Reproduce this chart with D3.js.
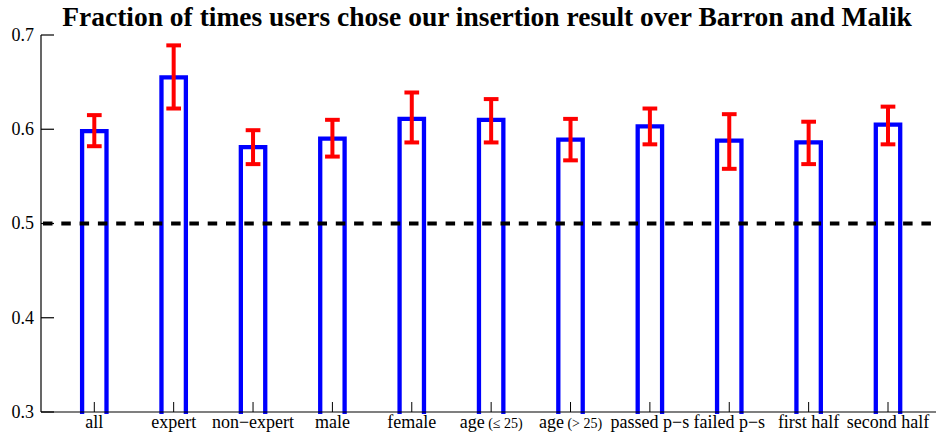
<!DOCTYPE html>
<meta charset="utf-8">
<style>
body { margin: 0; background: #fff; }
svg { display: block; background: #fff; }
text { font-family: "Liberation Serif", "Times New Roman", serif; fill: #000; }
.title { font-size: 27.5px; font-weight: bold; }
.axis text { font-size: 18px; }
</style>
<body>
<div id="chart"></div>
<script src="https://d3js.org/d3.v7.min.js"></script>
<script>
// categories and values
var categories = ["all", "expert", "non\u2212expert", "male", "female", "age|(\u2264 25)", "age|(> 25)",
  "passed p\u2212s", "failed p\u2212s", "first half", "second half"];
var fractions = [0.598, 0.655, 0.581, 0.590, 0.611, 0.610, 0.589, 0.603, 0.588, 0.586, 0.605];
var errLow  = [0.582, 0.622, 0.563, 0.571, 0.586, 0.586, 0.567, 0.584, 0.558, 0.563, 0.584];
var errHigh = [0.615, 0.689, 0.599, 0.610, 0.639, 0.632, 0.611, 0.622, 0.616, 0.608, 0.624];
var yTicks = [0.3, 0.4, 0.5, 0.6, 0.7];
var chance = 0.5;

var W = 936, H = 436;
var axisLeft = 41, axisRight = 936;

var svg = d3.select("#chart").append("svg")
  .attr("width", W)
  .attr("height", H);

var x = d3.scaleLinear().domain([1, 11]).range([94.3, 888]);
var y = d3.scaleLinear().domain([0.3, 0.7]).range([412, 35]);

var barW = 24.4, capW = 14.7;

svg.append("text")
  .attr("class", "title")
  .attr("x", 487)
  .attr("y", 26)
  .attr("text-anchor", "middle")
  .text("Fraction of times users chose our insertion result over Barron and Malik");

// bars: open at the bottom, drawn as outlines
svg.append("g").selectAll("path")
  .data(fractions)
  .enter().append("path")
  .attr("d", function(d, i) {
    var cx = x(i + 1), l = cx - barW / 2, r = cx + barW / 2;
    return "M" + l + "," + (y(0.3) + 2) + "V" + y(d) + "H" + r + "V" + (y(0.3) + 2);
  })
  .attr("fill", "none")
  .attr("stroke", "#0000ff")
  .attr("stroke-width", 4.3);

// chance line
svg.append("line")
  .attr("x1", axisLeft + 2).attr("x2", axisRight)
  .attr("y1", y(chance)).attr("y2", y(chance))
  .attr("stroke", "#000")
  .attr("stroke-width", 4)
  .attr("stroke-dasharray", "9.5,8.8");

// error bars
var err = svg.append("g").selectAll("g")
  .data(fractions)
  .enter().append("g")
  .attr("stroke", "#ff0000")
  .attr("stroke-width", 4);

err.append("line")
  .attr("x1", function(d, i) { return x(i + 1); })
  .attr("x2", function(d, i) { return x(i + 1); })
  .attr("y1", function(d, i) { return y(errLow[i]); })
  .attr("y2", function(d, i) { return y(errHigh[i]); });
err.append("line")
  .attr("x1", function(d, i) { return x(i + 1) - capW / 2; })
  .attr("x2", function(d, i) { return x(i + 1) + capW / 2; })
  .attr("y1", function(d, i) { return y(errHigh[i]); })
  .attr("y2", function(d, i) { return y(errHigh[i]); });
err.append("line")
  .attr("x1", function(d, i) { return x(i + 1) - capW / 2; })
  .attr("x2", function(d, i) { return x(i + 1) + capW / 2; })
  .attr("y1", function(d, i) { return y(errLow[i]); })
  .attr("y2", function(d, i) { return y(errLow[i]); });

// y axis
var yAxis = svg.append("g").attr("class", "axis");
yAxis.append("line")
  .attr("x1", axisLeft).attr("x2", axisLeft)
  .attr("y1", y(0.7)).attr("y2", y(0.3))
  .attr("stroke", "#000").attr("stroke-width", 1.2);
yAxis.selectAll(".tick").data(yTicks).enter().append("line")
  .attr("x1", axisLeft).attr("x2", axisLeft + 13)
  .attr("y1", function(d) { return y(d); })
  .attr("y2", function(d) { return y(d); })
  .attr("stroke", "#000").attr("stroke-width", 1.2);
yAxis.selectAll("text").data(yTicks).enter().append("text")
  .attr("x", 34)
  .attr("y", function(d) { return y(d); })
  .attr("dy", "0.33em")
  .attr("text-anchor", "end")
  .text(function(d) { return d3.format(".1f")(d); });

// x axis
var xAxis = svg.append("g").attr("class", "axis");
xAxis.append("line")
  .attr("x1", axisLeft).attr("x2", axisRight)
  .attr("y1", y(0.3)).attr("y2", y(0.3))
  .attr("stroke", "#000").attr("stroke-width", 1.2);
xAxis.selectAll(".tick").data(categories).enter().append("line")
  .attr("x1", function(d, i) { return x(i + 1); })
  .attr("x2", function(d, i) { return x(i + 1); })
  .attr("y1", y(0.3)).attr("y2", y(0.3) - 10)
  .attr("stroke", "#000").attr("stroke-width", 1);
var lab = xAxis.selectAll("text").data(categories).enter().append("text")
  .attr("x", function(d, i) { return x(i + 1); })
  .attr("y", 428)
  .attr("text-anchor", "middle");
lab.each(function(d) {
  var parts = d.split("|"), t = d3.select(this);
  t.append("tspan").text(parts[0]);
  if (parts[1]) t.append("tspan").style("font-size", "14px").text(" " + parts[1]);
});
</script>
</body>
